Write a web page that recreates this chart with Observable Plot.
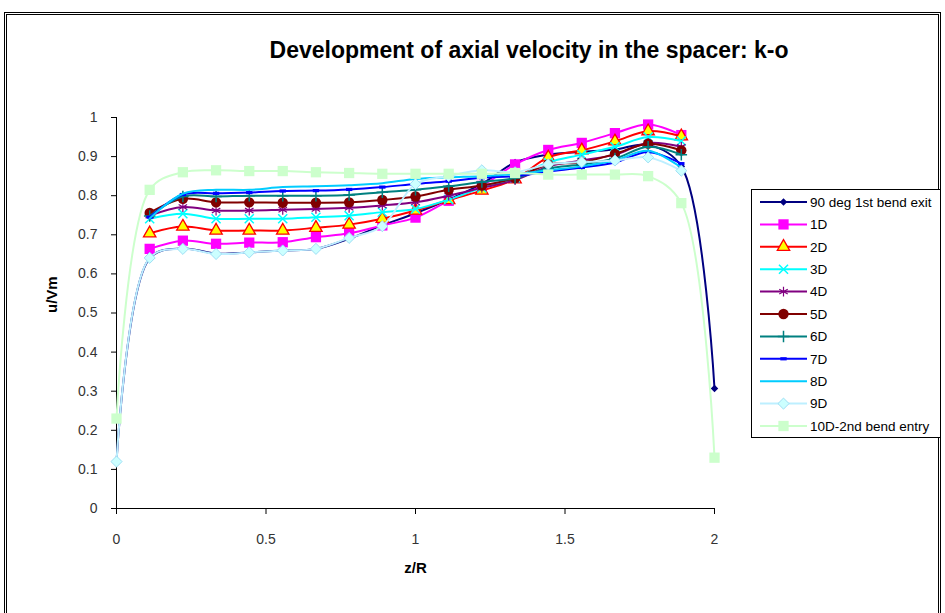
<!DOCTYPE html>
<html><head><meta charset="utf-8">
<script src="https://cdn.jsdelivr.net/npm/d3@7"></script>
<script src="https://cdn.jsdelivr.net/npm/@observablehq/plot@0.6"></script>
<style>
body{margin:0;background:#fff;font-family:"Liberation Sans",Arial,sans-serif;}
#wrap{position:relative;width:945px;height:613px;overflow:hidden;background:#fff;}
#frame{position:absolute;left:4px;top:12px;width:931px;height:620px;border:3px double #000;}
#title{position:absolute;left:0;width:1058px;top:37px;text-align:center;font-weight:bold;font-size:23px;color:#000;letter-spacing:0px;}
#legend{position:absolute;left:751px;top:189px;width:188px;height:247px;border:1px solid #000;background:#fff;}
#chart{position:absolute;left:0;top:0;}
</style></head><body>
<div id="wrap"><div id="frame"></div><div id="chart"></div><div id="title">Development of axial velocity in the spacer: k-o</div><div id="legend"></div></div>
<script>
// ---- data ----
const zR = [0,0.111,0.222,0.333,0.444,0.556,0.667,0.778,0.889,1,1.111,1.222,1.333,1.444,1.556,1.667,1.778,1.889,2];
const seriesNames = ["90 deg 1st bend exit","1D","2D","3D","4D","5D","6D","7D","8D","9D","10D-2nd bend entry"];
const u90  = [0.12,0.64,0.665,0.652,0.655,0.66,0.664,0.69,0.724,0.755,0.79,0.83,0.885,0.905,0.912,0.918,0.93,0.875,0.307];
const u1D  = [null,0.664,0.685,0.677,0.68,0.681,0.694,0.704,0.724,0.744,0.787,0.825,0.88,0.917,0.935,0.96,0.982,0.955,null];
const u2D  = [null,0.704,0.721,0.711,0.711,0.711,0.718,0.726,0.741,0.762,0.789,0.813,0.842,0.898,0.916,0.939,0.965,0.952,null];
const u3D  = [null,0.741,0.754,0.741,0.741,0.741,0.745,0.749,0.758,0.766,0.79,0.82,0.845,0.885,0.905,0.925,0.95,0.94,null];
const u4D  = [null,0.749,0.771,0.762,0.762,0.764,0.766,0.769,0.775,0.783,0.80,0.82,0.84,0.875,0.89,0.905,0.935,0.925,null];
const u5D  = [null,0.756,0.792,0.783,0.783,0.782,0.782,0.783,0.789,0.798,0.815,0.826,0.845,0.88,0.885,0.907,0.933,0.916,null];
const u6D  = [null,0.748,0.798,0.798,0.80,0.80,0.80,0.802,0.809,0.815,0.824,0.835,0.845,0.87,0.88,0.895,0.925,0.905,null];
const u7D  = [null,0.745,0.803,0.806,0.808,0.812,0.813,0.816,0.822,0.83,0.837,0.846,0.85,0.862,0.872,0.885,0.912,0.882,null];
const u8D  = [null,0.742,0.805,0.815,0.815,0.822,0.824,0.827,0.832,0.843,0.847,0.85,0.855,0.865,0.875,0.89,0.915,0.872,null];
const u9D  = [0.12,0.641,0.664,0.651,0.655,0.66,0.664,0.692,0.722,0.83,0.85,0.865,0.86,0.88,0.886,0.89,0.898,0.864,null];
const u10D = [0.23,0.815,0.86,0.865,0.863,0.863,0.86,0.858,0.856,0.856,0.856,0.856,0.858,0.854,0.854,0.854,0.85,0.781,0.13];
const seriesValues = [u90,u1D,u2D,u3D,u4D,u5D,u6D,u7D,u8D,u9D,u10D];
const xTicks = [0,0.5,1,1.5,2];
const yTicks = [0,0.1,0.2,0.3,0.4,0.5,0.6,0.7,0.8,0.9,1];

// ---- styles ----
const dash = {draw(ctx,size){const w=Math.sqrt(size)*0.45,h=1.6;ctx.moveTo(-w,-h);ctx.lineTo(w,-h);ctx.lineTo(w,h);ctx.lineTo(-w,h);ctx.closePath();}};
const styles = [
  {color:"#000080",symbol:"diamond2",r:3.4,fill:"#000080",stroke:"none"},
  {color:"#FF00FF",symbol:"square",r:5.8,fill:"#FF00FF",stroke:"none"},
  {color:"#FF0000",symbol:"triangle",r:4.6,fill:"#FFFF00",stroke:"#FF0000",sw:1.3},
  {color:"#00FFFF",symbol:"times",r:4.2,fill:"none",stroke:"#00FFFF",sw:1.5},
  {color:"#800080",symbol:"asterisk",r:4.6,fill:"none",stroke:"#800080",sw:1.2},
  {color:"#800000",symbol:"circle",r:5.2,fill:"#800000",stroke:"none"},
  {color:"#008080",symbol:"plus",r:3.8,fill:"none",stroke:"#008080",sw:1.5},
  {color:"#0000FF",symbol:dash,r:4,fill:"#0000FF",stroke:"none"},
  {color:"#00CCFF",symbol:null},
  {color:"#BDEFFF",symbol:"diamond2",r:5,fill:"#CCFFFF",stroke:"#9FDFF5",sw:1},
  {color:"#CCFFCC",symbol:"square",r:5.8,fill:"#CCFFCC",stroke:"none"}
];

const rows = [];
seriesNames.forEach((name,i)=>seriesValues[i].forEach((v,j)=>{ if(v!=null) rows.push({series:name,z:zR[j],u:v}); }));

const fmt = d => String(Math.round(d*10)/10);
const marks = [
  Plot.axisY(yTicks,{tickSize:5,tickPadding:14,fontSize:14,fill:"#333",stroke:"#000",tickFormat:fmt,label:null}),
  Plot.axisX(xTicks,{tickSize:6,tickPadding:20,fontSize:14,fill:"#333",stroke:"#000",tickFormat:fmt,label:null}),
  Plot.ruleX([0],{stroke:"#000"}),
  Plot.ruleY([0],{stroke:"#000"}),
  Plot.text(["z/R"],{frameAnchor:"bottom",dy:64,fontSize:15,fontWeight:"bold",fill:"#000"}),
  Plot.text(["u/Vm"],{frameAnchor:"left",dx:-64,rotate:-90,fontSize:15,fontWeight:"bold",fill:"#000"})
];
seriesNames.forEach((name,i)=>{
  const st = styles[i];
  const d = rows.filter(r=>r.series===name);
  marks.push(Plot.line(d,{x:"z",y:"u",stroke:st.color,strokeWidth:2,curve:"catmull-rom"}));
  if(st.symbol) marks.push(Plot.dot(d,{x:"z",y:"u",symbol:st.symbol,r:st.r,fill:st.fill,stroke:st.stroke,strokeWidth:st.sw||1}));
});

const chart = Plot.plot({
  width:945,height:613,
  marginLeft:116,marginRight:231,marginTop:117,marginBottom:105,
  x:{domain:[0,2]},y:{domain:[0,1]},
  style:{fontFamily:"'Liberation Sans', Arial, sans-serif",background:"transparent",overflow:"visible"},
  marks
});
document.getElementById("chart").appendChild(chart);

// ---- legend ----
const lg = d3.select("#legend").append("svg").attr("width",188).attr("height",247)
  .style("font-family","'Liberation Sans', Arial, sans-serif");
seriesNames.forEach((name,i)=>{
  const st = styles[i];
  const y = 12 + i*22.4;
  const g = lg.append("g").attr("transform",`translate(0,${y})`);
  g.append("line").attr("x1",8).attr("x2",55).attr("y1",0).attr("y2",0).attr("stroke",st.color).attr("stroke-width",2);
  if(st.symbol){
    const sym = typeof st.symbol==="string" ? {diamond2:d3.symbolDiamond2,square:d3.symbolSquare,triangle:d3.symbolTriangle,times:d3.symbolTimes,asterisk:d3.symbolAsterisk,circle:d3.symbolCircle,plus:d3.symbolPlus}[st.symbol] : st.symbol;
    g.append("path").attr("transform","translate(31.5,0)").attr("d",d3.symbol(sym,Math.PI*st.r*st.r)())
      .attr("fill",st.fill).attr("stroke",st.stroke).attr("stroke-width",st.sw||1);
  }
  g.append("text").attr("x",58).attr("y",0).attr("dy","0.35em").attr("font-size",13.5).attr("fill","#000").text(name);
});
</script>
</body></html>
